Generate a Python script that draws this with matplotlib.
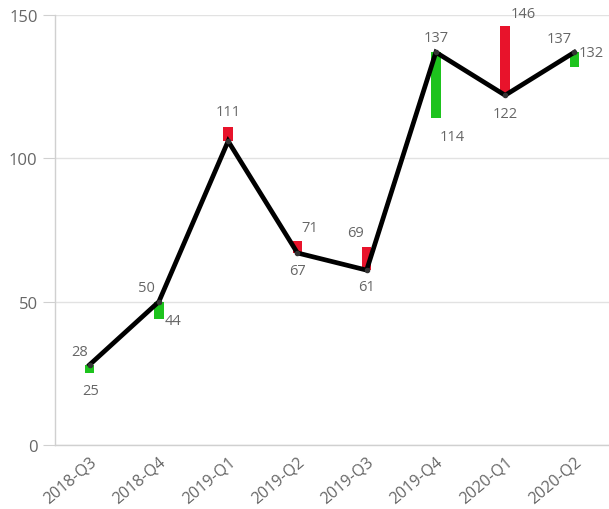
# floating bars from actual to target with actual line on top
# comments are lowercase no punctuation

import numpy as np
import matplotlib.pyplot as plt

plt.rcParams["font.family"] = ["Open Sans", "DejaVu Sans"]

quarters = ["2018-Q3", "2018-Q4", "2019-Q1", "2019-Q2",
            "2019-Q3", "2019-Q4", "2020-Q1", "2020-Q2"]
actual = [28, 50, 106, 67, 61, 137, 122, 137]
target = [25, 44, 111, 71, 69, 114, 146, 132]

# label offsets in pixels for actual and target labels none means hidden
actual_offsets = [(-10, 13), (-12, 14), None, (0, -18), (0, -16), (0, 15), (0, -18), (-15, 14)]
target_offsets = [(1, -17), (14, -2), (0, 15), (12, 14), (-11, 15), (16, -18), (18, 13), (17, 14)]

RED = "#e8132b"
GREEN = "#1dc31d"
GREY_TXT = "#666666"
GRID = "#e2e2e2"
AXIS = "#d0d0d0"


def main():
    fig = plt.figure(figsize=(6.09, 5.10), dpi=100)
    ax = fig.add_axes([55 / 609, 64 / 510, 554 / 609, 430 / 510])

    x = np.arange(len(quarters))
    a = np.array(actual)
    t = np.array(target)
    colors = [GREEN if tv < av else RED for av, tv in zip(a, t)]
    ax.bar(x, t - a, bottom=a, width=0.14, color=colors, zorder=2)

    ax.plot(x, a, color="black", lw=3.4, zorder=3, solid_joinstyle="miter",
            marker="o", ms=3, mfc="#333333", mec="#333333")

    for i in range(len(x)):
        if actual_offsets[i] is not None:
            ax.annotate(str(actual[i]), (x[i], actual[i]), xytext=actual_offsets[i],
                        textcoords="offset pixels", ha="center", va="center",
                        fontsize=10.5, color=GREY_TXT, zorder=4)
        if target_offsets[i] is not None:
            ax.annotate(str(target[i]), (x[i], target[i]), xytext=target_offsets[i],
                        textcoords="offset pixels", ha="center", va="center",
                        fontsize=10.5, color=GREY_TXT, zorder=4)

    ax.set_xlim(-0.5, len(x) - 0.5)
    ax.set_ylim(0, 150)
    ax.set_yticks([0, 50, 100, 150])
    ax.set_xticks(x)
    ax.set_xticklabels(quarters, rotation=40, ha="right", rotation_mode="anchor")

    ax.grid(axis="y", color=GRID, lw=1, zorder=0)
    ax.set_axisbelow(True)
    for s in ["top", "right"]:
        ax.spines[s].set_visible(False)
    for s in ["left", "bottom"]:
        ax.spines[s].set_color(AXIS)
        ax.spines[s].set_linewidth(1)

    ax.tick_params(axis="y", length=8.5, color=AXIS, labelsize=12, labelcolor=GREY_TXT, pad=4)
    ax.tick_params(axis="x", length=0, labelsize=11.5, labelcolor=GREY_TXT, pad=6)

    fig.savefig("out.png", dpi=100)
    plt.close(fig)


if __name__ == "__main__":
    main()
